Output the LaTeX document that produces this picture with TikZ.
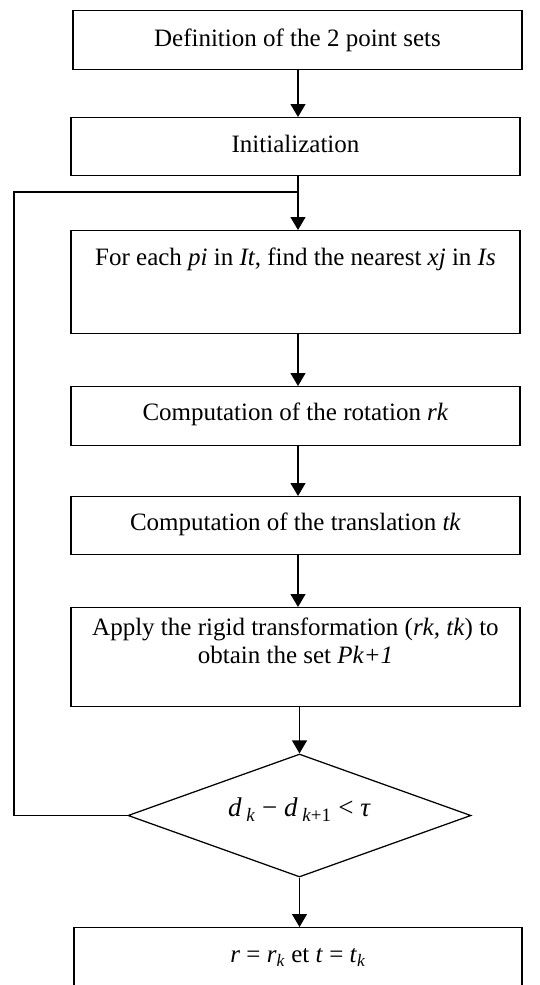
\documentclass[tikz,border=0pt]{standalone}
\usepackage{fontspec}
\setmainfont{Liberation Serif}
\usetikzlibrary{shapes.geometric,arrows.meta}
\begin{document}
\begin{tikzpicture}[x=1pt,y=-1pt,
  font=\fontsize{25}{28}\selectfont,
  line width=1.25pt,
  box/.style={draw, rectangle, minimum width=449pt, inner xsep=0pt, inner ysep=0pt, anchor=north},
  arr/.style={-{Triangle[length=13pt,width=15pt]}},
  cond/.style={draw, diamond, aspect=2.79, minimum width=343pt, minimum height=123pt, inner sep=0pt}]
\useasboundingbox (0,0) rectangle (540,985);
\clip (0,0) rectangle (540,985);
\coordinate (ax) at (298,0);
\node[box, text height=36pt, text depth=23pt] (b1) at (297.5,10) {Definition of the 2 point sets};
\node[box, text height=35pt, text depth=23pt] (b2) at (295.5,117) {Initialization};
\node[box, text height=35pt, text depth=68pt] (b3) at (295.5,230) {For each \textit{pi} in \textit{It}, find the nearest \textit{xj} in \textit{Is}};
\node[box, text height=34pt, text depth=25pt] (b4) at (295.5,386) {Computation of the rotation \textit{rk}};
\node[box, text height=34pt, text depth=24pt] (b5) at (295.5,496) {Computation of the translation \textit{tk}};
\node[box, text height=28pt, text depth=71pt] (b6) at (295.5,607) {\begin{tabular}[t]{@{}c@{}}Apply the rigid transformation (\textit{rk, tk}) to\\obtain the set \textit{Pk+1}\end{tabular}};
\node[cond, text height=18pt, text depth=16pt] (d) at (299.5,815.5) {\fontsize{27}{30}\selectfont\textit{d}\,\textsubscript{\textit{k}} − \textit{d}\,\textsubscript{\textit{k}+1} < \textit{τ}};
\node[box, minimum width=448pt, text height=35pt, text depth=48pt] (b7) at (298,927) {\textit{r} = \textit{r}\textsubscript{\textit{k}} et \textit{t} = \textit{t}\textsubscript{\textit{k}}};
\draw[arr] (b1.south -| ax) -- (b2.north -| ax);
\draw[arr] (b2.south -| ax) -- (b3.north -| ax);
\draw[arr] (b3.south -| ax) -- (b4.north -| ax);
\draw[arr] (b4.south -| ax) -- (b5.north -| ax);
\draw[arr] (b5.south -| ax) -- (b6.north -| ax);
\draw[arr] (b6.south -| d.north) -- (d.north);
\draw[arr] (d.south) -- (d.south |- b7.north);
\coordinate (j) at (298,192);
\coordinate (lt) at (14,192);
\draw (d.west) -- (lt |- d.west) -- (lt) -- (j);
\end{tikzpicture}
\end{document}
